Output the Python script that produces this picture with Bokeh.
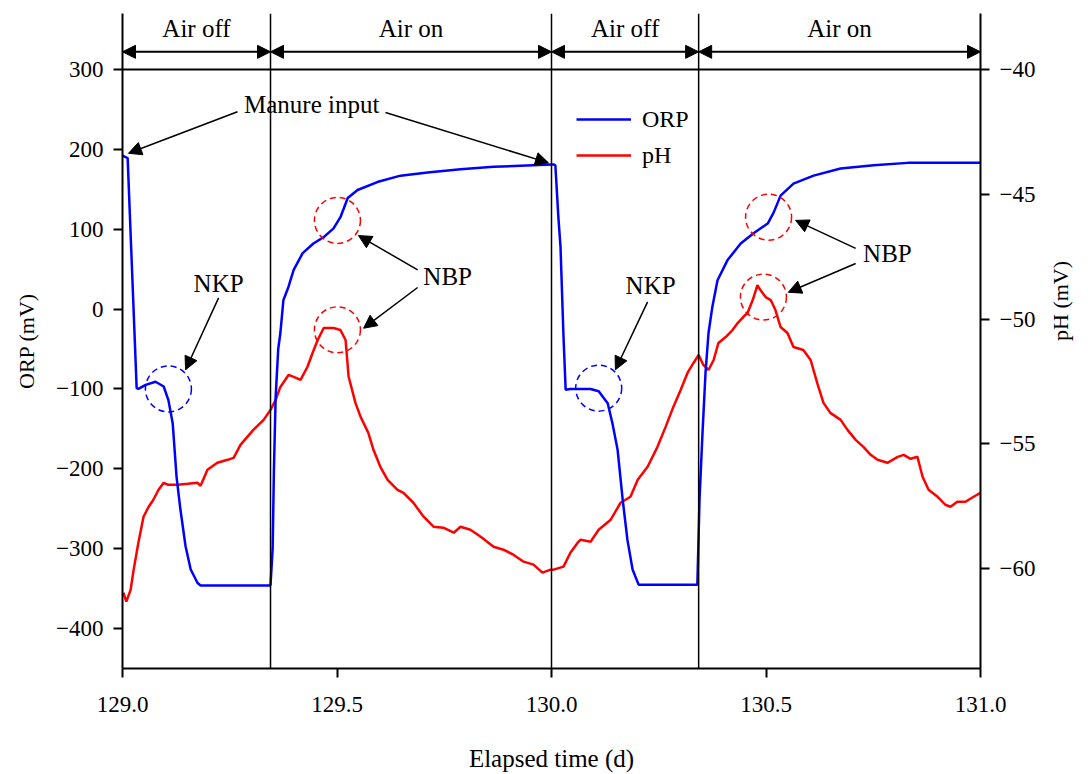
import math
from bokeh.plotting import figure
from bokeh.models import (Range1d, LinearAxis, FixedTicker, Span, Arrow, NormalHead,
                          Legend, LegendItem, ColumnDataSource, NumeralTickFormatter)
from bokeh.core.properties import value
from bokeh.embed import file_html
from bokeh.resources import INLINE

FONT = "Liberation Serif"

# ---------------- data ----------------
orp_t = [129.000, 129.012, 129.033, 129.037, 129.054, 129.077, 129.096, 129.107, 129.117, 129.126,
         129.135, 129.147, 129.159, 129.175, 129.182, 129.345, 129.350, 129.353, 129.357, 129.363,
         129.368, 129.375, 129.387, 129.399, 129.420, 129.445, 129.469, 129.492, 129.508, 129.525,
         129.548, 129.594, 129.648, 129.711, 129.788, 129.865, 130.000, 130.005, 130.009, 130.016,
         130.021, 130.028, 130.033, 130.044, 130.091, 130.110, 130.131, 130.142, 130.154, 130.166,
         130.177, 130.189, 130.203, 130.340, 130.345, 130.352, 130.359, 130.366, 130.375, 130.387,
         130.410, 130.441, 130.471, 130.504, 130.518, 130.534, 130.564, 130.611, 130.674, 130.751,
         130.830, 131.000]
orp_mv = [192, 189, -99, -100, -95, -91, -97, -114, -143, -210,
          -251, -297, -326, -343, -346, -346, -300, -200, -110, -50,
          -30, 11, 28, 49, 70, 82, 90, 101, 115, 139,
          149, 159, 167, 171, 175, 178, 181, 181, 180, 115,
          78, -35, -101, -100, -100, -103, -118, -143, -176, -239,
          -289, -326, -345, -345, -239, -155, -80, -30, 3, 36,
          61, 82, 95, 107, 121, 142, 157, 167, 176, 180,
          183, 183]

ph_t = [129.002, 129.009, 129.019, 129.026, 129.037, 129.049, 129.061, 129.072, 129.084, 129.096,
        129.107, 129.128, 129.152, 129.175, 129.182, 129.198, 129.221, 129.245, 129.259, 129.275,
        129.291, 129.305, 129.329, 129.345, 129.357, 129.368, 129.387, 129.399, 129.415, 129.431,
        129.443, 129.455, 129.469, 129.492, 129.508, 129.520, 129.527, 129.543, 129.555, 129.573,
        129.585, 129.601, 129.618, 129.641, 129.655, 129.678, 129.702, 129.725, 129.748, 129.772,
        129.788, 129.811, 129.835, 129.865, 129.888, 129.911, 129.935, 129.958, 129.979, 129.998,
        130.005, 130.028, 130.044, 130.061, 130.068, 130.091, 130.110, 130.138, 130.161, 130.184,
        130.201, 130.224, 130.247, 130.266, 130.284, 130.301, 130.317, 130.331, 130.343, 130.354,
        130.366, 130.378, 130.389, 130.406, 130.422, 130.434, 130.448, 130.457, 130.469, 130.480,
        130.487, 130.499, 130.511, 130.522, 130.534, 130.550, 130.564, 130.587, 130.604, 130.620,
        130.634, 130.650, 130.674, 130.690, 130.709, 130.727, 130.744, 130.760, 130.783, 130.807,
        130.821, 130.837, 130.853, 130.865, 130.879, 130.900, 130.918, 130.930, 130.946, 130.965,
        130.984, 131.000]
ph_mv = [-60.96, -61.32, -60.84, -60.04, -58.96, -57.92, -57.52, -57.24, -56.84, -56.56,
         -56.64, -56.64, -56.60, -56.56, -56.68, -56.04, -55.76, -55.64, -55.56, -55.04,
         -54.72, -54.44, -54.04, -53.64, -53.24, -52.72, -52.24, -52.32, -52.44, -51.92,
         -51.36, -50.84, -50.36, -50.36, -50.44, -50.84, -52.30, -53.36, -53.92, -54.56,
         -55.24, -55.92, -56.44, -56.84, -56.96, -57.36, -57.92, -58.32, -58.36, -58.56,
         -58.32, -58.44, -58.72, -59.12, -59.24, -59.44, -59.72, -59.84, -60.16, -60.04,
         -60.04, -59.92, -59.36, -58.96, -58.84, -58.92, -58.44, -58.04, -57.36, -57.12,
         -56.44, -55.92, -55.12, -54.32, -53.52, -52.84, -52.16, -51.76, -51.44, -51.84,
         -52.04, -51.64, -50.96, -50.72, -50.44, -50.16, -49.90, -49.76, -49.24, -48.64,
         -48.84, -49.12, -49.24, -49.64, -50.32, -50.56, -51.12, -51.24, -51.64, -52.60,
         -53.36, -53.76, -54.04, -54.44, -54.84, -55.12, -55.44, -55.64, -55.76, -55.52,
         -55.44, -55.60, -55.52, -56.32, -56.84, -57.12, -57.44, -57.52, -57.32, -57.32,
         -57.12, -56.96]

phase_bounds = [129.0, 129.345, 130.0, 130.343, 131.0]
phase_labels = ["Air off", "Air on", "Air off", "Air on"]

x_ticks = [129.0, 129.5, 130.0, 130.5, 131.0]
orp_ticks = [-400, -300, -200, -100, 0, 100, 200, 300]
ph_ticks = [-60, -55, -50, -45, -40]

# annotations (text, arrows, dashed circles), in ORP-axis units
ann_text = ["Manure input", "NKP", "NKP", "NBP", "NBP"]
ann_tx = [129.441, 129.224, 130.231, 129.758, 130.783]
ann_ty = [256, 32, 30, 41, 70]

arr_x0 = [129.268, 129.613, 129.224, 130.224, 129.688, 129.688, 130.709, 130.709]
arr_y0 = [247, 246, 14, 9, 49, 27, 76, 57]
arr_x1 = [129.014, 129.993, 129.147, 130.149, 129.550, 129.562, 130.569, 130.552]
arr_y1 = [195, 183, -76, -76, 92, -24, 111, 21]

circ_blue_x = [129.107, 130.110]
circ_blue_y = [-100, -99]
circ_red_x = [129.501, 129.501, 130.506, 130.494]
circ_red_y = [111, -26, 115, 15]

# ---------------- figure ----------------
p = figure(width=1088, height=774,
           x_range=Range1d(129.0, 131.0), y_range=Range1d(-450, 370),
           output_backend="svg", toolbar_location=None,
           min_border_left=122, min_border_right=108, min_border_top=13, min_border_bottom=105)
p.extra_y_ranges = {"ph": Range1d(-64.0, -37.76)}
p.outline_line_color = None
p.grid.visible = False
p.background_fill_color = "white"
p.border_fill_color = "white"


def style_axis(ax):
    ax.axis_line_width = 2
    ax.axis_line_color = "black"
    ax.major_tick_line_width = 2
    ax.major_tick_line_color = "black"
    ax.major_tick_out = 9
    ax.major_tick_in = 0
    ax.minor_tick_line_color = None
    ax.major_label_text_font = FONT
    ax.major_label_text_font_size = "23px"
    ax.major_label_text_color = "black"
    ax.axis_label_text_font = FONT
    ax.axis_label_text_font_size = "22px"
    ax.axis_label_text_font_style = "normal"
    ax.axis_label_text_color = "black"


xa = p.xaxis[0]
style_axis(xa)
xa.ticker = FixedTicker(ticks=x_ticks)
xa.formatter = NumeralTickFormatter(format="0.0")
xa.axis_label = "Elapsed time (d)"
xa.axis_label_text_font_size = "25px"
xa.major_label_standoff = 19
xa.axis_label_standoff = 30

ya = p.yaxis[0]
style_axis(ya)
ya.ticker = FixedTicker(ticks=orp_ticks)
ya.axis_label = "ORP (mV)"
ya.major_label_standoff = 10
ya.axis_label_standoff = 14

ra = LinearAxis(y_range_name="ph", ticker=FixedTicker(ticks=ph_ticks), axis_label="pH (mV)")
style_axis(ra)
ra.major_label_standoff = 10
ra.axis_label_standoff = 22
try:
    ra.axis_label_orientation = math.pi / 2
except Exception:
    pass
p.add_layout(ra, "right")

# frame lines
p.add_layout(Span(location=300, dimension="width", line_color="black", line_width=2))
for b in phase_bounds[1:-1]:
    p.add_layout(Span(location=b, dimension="height", line_color="black", line_width=1.5))

# phase arrows & labels
for i in range(len(phase_labels)):
    p.add_layout(Arrow(
        start=NormalHead(size=13, fill_color="black", line_color="black"),
        end=NormalHead(size=13, fill_color="black", line_color="black"),
        x_start=phase_bounds[i], x_end=phase_bounds[i + 1], y_start=322, y_end=322,
        line_width=2, line_color="black"))
mids = [(phase_bounds[i] + phase_bounds[i + 1]) / 2 for i in range(len(phase_labels))]
p.text(x=mids, y=[351] * len(mids), text=phase_labels, text_align="center",
       text_baseline="middle", text_font=value(FONT), text_font_size=value("25px"),
       text_color="black")

# series
r_ph = p.line(ph_t, ph_mv, y_range_name="ph", line_color="#FF0000", line_width=2.5)
r_orp = p.line(orp_t, orp_mv, line_color="#0000FF", line_width=2.5)

# dashed circles
p.scatter(circ_blue_x, circ_blue_y, marker="circle", size=46, fill_color=None,
          line_color="#0000FF", line_width=1.5, line_dash="6 4")
p.scatter(circ_red_x, circ_red_y, marker="circle", size=46, fill_color=None,
          line_color="#FF0000", line_width=1.5, line_dash="6 4")

# annotation arrows
asrc = ColumnDataSource(dict(x0=arr_x0, y0=arr_y0, x1=arr_x1, y1=arr_y1))
p.add_layout(Arrow(end=NormalHead(size=13, fill_color="black", line_color="black"),
                   x_start="x0", y_start="y0", x_end="x1", y_end="y1", source=asrc,
                   line_width=1.5, line_color="black"))
p.text(x=ann_tx, y=ann_ty, text=ann_text, text_align="center", text_baseline="middle",
       text_font=value(FONT), text_font_size=value("25px"), text_color="black")

legend = Legend(items=[LegendItem(label="ORP", renderers=[r_orp]),
                       LegendItem(label="pH", renderers=[r_ph])],
                location=(454, 495), glyph_width=55, glyph_height=36, label_height=36,
                label_standoff=11, padding=0, spacing=0, margin=0,
                border_line_color=None, background_fill_alpha=0,
                label_text_font=FONT, label_text_font_size="24px", label_text_color="black")
p.add_layout(legend)

open("out.html", "w").write(file_html(p, INLINE))
